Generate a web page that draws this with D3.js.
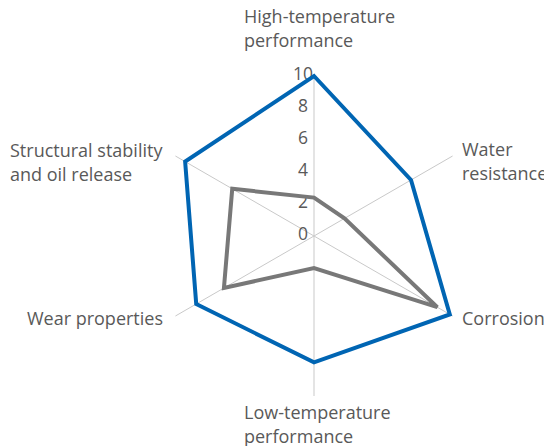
<!DOCTYPE html>
<html>
<head>
<meta charset="utf-8">
<script src="https://cdn.jsdelivr.net/npm/d3@7"></script>
<style>
  html, body { margin: 0; padding: 0; background: #fff; }
  svg text { font-family: "Open Sans", sans-serif; fill: #595959; }
</style>
</head>
<body>
<svg id="chart" width="544" height="446"></svg>
<script>
const categories = [
  ["High-temperature", "performance"],
  ["Water", "resistance"],
  ["Corrosion"],
  ["Low-temperature", "performance"],
  ["Wear properties"],
  ["Structural stability", "and oil release"]
];
const seriesBlue = [10, 7, 9.8, 7.9, 8.5, 9.3];
const seriesGray = [2.4, 2.2, 8.9, 2, 6.5, 5.9];
const tickValues = [0, 2, 4, 6, 8, 10];

// label layout (anchor x, first baseline y, text-anchor)
const labelLayout = [
  { x: 244, y: 23, anchor: "start" },
  { x: 462, y: 156, anchor: "start" },
  { x: 462, y: 325, anchor: "start" },
  { x: 244, y: 419, anchor: "start" },
  { x: 163, y: 325, anchor: "end" },
  { x: 10, y: 157, anchor: "start" }
];

const svg = d3.select("#chart");
const cx = 314, cy = 236, R = 160;
const r = d3.scaleLinear().domain([0, 10]).range([0, R]);
const angle = d3.scaleLinear().domain([0, categories.length]).range([0, 2 * Math.PI]);

const g = svg.append("g").attr("transform", `translate(${cx},${cy})`);

// spokes
g.selectAll("line.spoke").data(categories).join("line")
  .attr("class", "spoke")
  .attr("x1", 0).attr("y1", 0)
  .attr("x2", (d, i) => r(10) * Math.sin(angle(i)))
  .attr("y2", (d, i) => -r(10) * Math.cos(angle(i)))
  .attr("stroke", "#c9c9c9").attr("stroke-width", 1);

// tick labels
g.selectAll("text.tick").data(tickValues).join("text")
  .attr("class", "tick")
  .attr("x", -11)
  .attr("y", d => -r(d) - 3)
  .attr("text-anchor", "middle")
  .attr("dominant-baseline", "central")
  .attr("font-size", 17.5)
  .text(d => d);

const radial = d3.lineRadial()
  .angle((d, i) => angle(i))
  .radius(d => r(d))
  .curve(d3.curveLinearClosed);

g.append("path").datum(seriesBlue)
  .attr("d", radial)
  .attr("fill", "none")
  .attr("stroke", "#0065b3")
  .attr("stroke-width", 4)
  .attr("stroke-linejoin", "miter");

g.append("path").datum(seriesGray)
  .attr("d", radial)
  .attr("fill", "none")
  .attr("stroke", "#787878")
  .attr("stroke-width", 4)
  .attr("stroke-linejoin", "miter");

// category labels
const lbl = svg.selectAll("text.cat").data(categories).join("text")
  .attr("class", "cat")
  .attr("font-size", 18)
  .attr("text-anchor", (d, i) => labelLayout[i].anchor);
lbl.each(function(d, i) {
  const t = d3.select(this);
  d.forEach((line, j) => {
    t.append("tspan")
      .attr("x", labelLayout[i].x)
      .attr("y", labelLayout[i].y + j * 24)
      .text(line);
  });
});
</script>
</body>
</html>
